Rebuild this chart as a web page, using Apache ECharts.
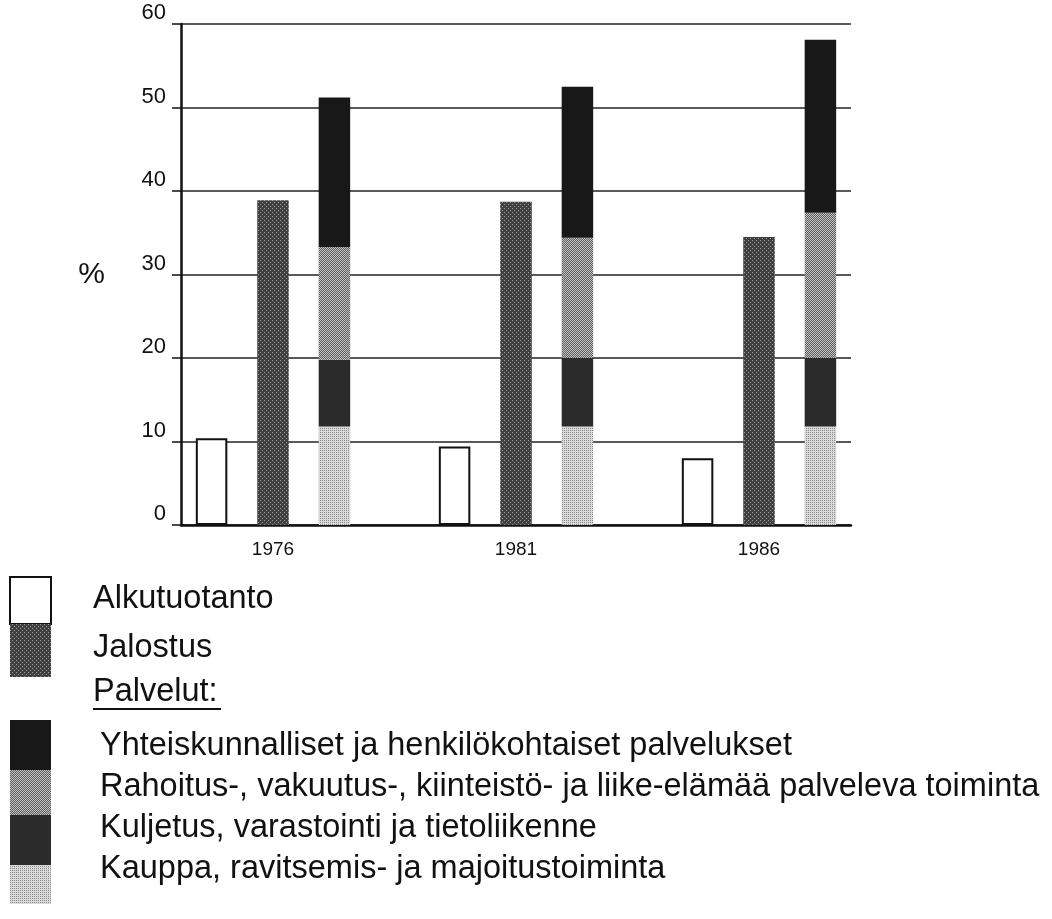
<!DOCTYPE html>
<html><head><meta charset="utf-8">
<script src="https://cdn.jsdelivr.net/npm/echarts@6/dist/echarts.min.js"></script>
<style>html,body{margin:0;padding:0;background:#fff}#c{width:1052px;height:919px}</style>
</head><body><div id="c"></div>
<script>
// ---- data ----
const years = ['1976', '1981', '1986'];
const alkutuotanto = [10.4, 9.4, 8.0];
const jalostus = [38.9, 38.7, 34.5];
const kauppa = [11.8, 11.8, 11.8];
const kuljetus = [8.0, 8.2, 8.2];
const rahoitus = [13.5, 14.4, 17.4];
const yhteiskunnalliset = [17.9, 18.1, 20.7];
const yTicks = [0, 10, 20, 30, 40, 50, 60];
const nameAlk = 'Alkutuotanto';
const nameJal = 'Jalostus';
const headingPalvelut = 'Palvelut:';
const nameYht = 'Yhteiskunnalliset ja henkilökohtaiset palvelukset';
const nameRah = 'Rahoitus-, vakuutus-, kiinteistö- ja liike-elämää palveleva toiminta';
const nameKul = 'Kuljetus, varastointi ja tietoliikenne';
const nameKau = 'Kauppa, ravitsemis- ja majoitustoiminta';
const yAxisName = '%';

// ---- styles ----
const FONT = '"Liberation Sans", Arial, Helvetica, sans-serif';
function pat(w, h, bg, fg, pts) {
  const c = document.createElement('canvas');
  c.width = w; c.height = h;
  const g = c.getContext('2d');
  g.fillStyle = bg; g.fillRect(0, 0, w, h);
  g.fillStyle = fg;
  pts.forEach(p => g.fillRect(p[0], p[1], 1, 1));
  return { image: c, repeat: 'repeat' };
}
const fillJal = pat(4, 4, '#404040', '#a0a0a0', [[0, 0], [2, 2]]);
const fillRah = pat(2, 2, '#5c5c5c', '#c4c4c4', [[0, 0], [1, 1]]);
const fillKau = pat(2, 2, '#dadada', '#8a8a8a', [[0, 0]]);
const fillYht = '#181818';
const fillKul = '#2b2b2b';

const BW = 31.5;
function barSeries(name, data, stack, color, extra) {
  return Object.assign({
    name, type: 'bar', stack, data,
    xAxisIndex: 0, yAxisIndex: 0,
    barWidth: BW, barGap: '95%',
    itemStyle: { color },
    emphasis: { disabled: true }
  }, extra || {});
}

const series = [
  barSeries(nameAlk, alkutuotanto, 'alk', '#ffffff', { itemStyle: { color: '#ffffff', borderColor: '#111', borderWidth: 2 } }),
  barSeries(nameJal, jalostus, 'jal', fillJal),
  barSeries(nameKau, kauppa, 'pal', fillKau),
  barSeries(nameKul, kuljetus, 'pal', fillKul),
  barSeries(nameRah, rahoitus, 'pal', fillRah),
  barSeries(nameYht, yhteiskunnalliset, 'pal', fillYht)
];

// ---- legend drawn as graphic ----
const SX = 10, SW = 41, TX = 93, TX2 = 100;
const LFS = 32.5;
const legendFont = LFS + 'px ' + FONT;
const graphic = [];
function swatch(y, h, fill, stroke) {
  graphic.push({ type: 'rect', shape: { x: SX, y: y, width: SW, height: h },
    style: { fill: fill, stroke: stroke || null, lineWidth: stroke ? 2 : 0 } });
}
function label(txt, x, y) {
  graphic.push({ type: 'text', x: x, y: y,
    style: { text: txt, font: legendFont, fill: '#111', verticalAlign: 'middle', align: 'left' } });
}
swatch(577, 47, '#ffffff', '#111');
swatch(624, 53, fillJal);
label(nameAlk, TX, 599);
label(nameJal, TX, 648);
label(headingPalvelut, TX, 692);
graphic.push({ type: 'line', shape: { x1: TX, y1: 709, x2: TX + 128, y2: 709 }, style: { stroke: '#111', lineWidth: 2 } });
swatch(720, 50, fillYht);
swatch(770, 45, fillRah);
swatch(815, 50, fillKul);
swatch(865, 39, fillKau);
label(nameYht, TX2, 746);
label(nameRah, TX2, 787);
label(nameKul, TX2, 828);
label(nameKau, TX2, 869);

const chart = echarts.init(document.getElementById('c'), null, { renderer: 'canvas' });
chart.setOption({
  animation: false,
  backgroundColor: '#ffffff',
  grid: [
    { left: 151.5, right: 171.5, top: 24, bottom: 394 },
    { left: 181, right: 201, top: 24, bottom: 394 }
  ],
  xAxis: [
    { gridIndex: 0, type: 'category', data: years,
      axisLine: { show: false }, axisTick: { show: false },
      axisLabel: { margin: 15, fontSize: 19, color: '#111', fontFamily: FONT } },
    { gridIndex: 1, type: 'value', min: 0, max: 1,
      axisLine: { show: true, onZero: false, lineStyle: { color: '#111', width: 2.5 } },
      axisTick: { show: false }, axisLabel: { show: false }, splitLine: { show: false } }
  ],
  yAxis: [
    { gridIndex: 0, type: 'value', min: yTicks[0], max: yTicks[yTicks.length - 1], show: false },
    { gridIndex: 1, type: 'value', min: yTicks[0], max: yTicks[yTicks.length - 1], interval: yTicks[1] - yTicks[0],
      name: yAxisName, nameLocation: 'middle', nameRotate: 0, nameGap: 76,
      nameTextStyle: { fontSize: 30, color: '#111', fontFamily: FONT, padding: [0, 0, 10, 0] },
      axisLine: { show: true, onZero: false, lineStyle: { color: '#111', width: 2.5 } },
      axisTick: { show: true, length: 9, lineStyle: { color: '#111', width: 1.5 } },
      axisLabel: { margin: 15, fontSize: 22, color: '#111', fontFamily: FONT, verticalAlign: 'bottom' },
      splitLine: { show: true, lineStyle: { color: '#222', width: 1.5 } } }
  ],
  series: series,
  graphic: graphic
});
</script></body></html>
